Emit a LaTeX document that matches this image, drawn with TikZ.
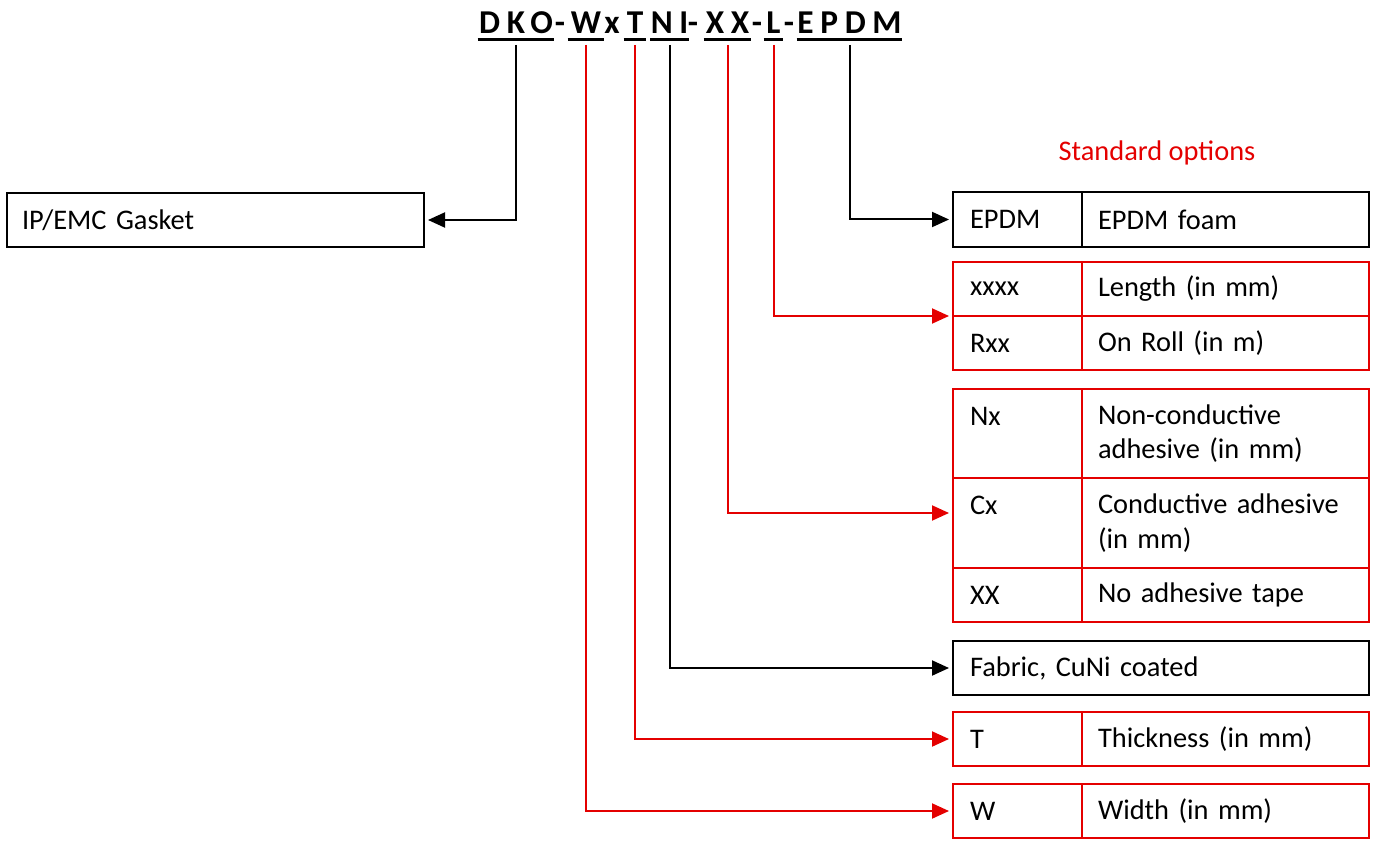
\documentclass[tikz,border=0pt]{standalone}
\usepackage{fontspec}
\setmainfont{Carlito}
\usetikzlibrary{arrows.meta}
\definecolor{myred}{RGB}{228,0,0}
\newcommand{\titlefnt}{\fontsize{25}{30}\selectfont\bfseries\addfontfeatures{LetterSpace=20}}
\begin{document}
\begin{tikzpicture}[x=0.75pt,y=-0.75pt,
  every node/.style={font=\fontsize{21.3}{26}\selectfont},
  box/.style={draw, line width=1.9pt, rectangle, anchor=north west, outer sep=0pt, inner ysep=0pt, align=left},
  lcell/.style={box, minimum width=96.75pt, text width=71.25pt, inner xsep=12.75pt},
  rcell/.style={box, minimum width=215.25pt, text width=191.25pt, inner xsep=12pt},
  redbox/.style={draw=myred},
  tok/.style={font=\titlefnt, inner xsep=0pt, inner ysep=0pt, anchor=base, text depth=8.25pt},
  uline/.style={line width=2.4pt},
  conn/.style={line width=1.5pt, shorten >=3pt, -{Triangle[length=12.75pt,width=11.25pt]}}
]
\useasboundingbox (0,0) rectangle (1377,841);

% title
\node[tok, minimum width=57pt] (DKO) at (516,33.5) {DKO};
\node[tok] (d1) at (560,33.5) {-};
\node[tok, minimum width=27pt] (W) at (586,33.5) {W};
\node[tok] (x1) at (612,33.5) {x};
\node[tok, minimum width=16.5pt] (T) at (635,33.5) {T};
\node[tok, minimum width=27.75pt] (NI) at (669.5,33.5) {NI};
\node[tok] (d2) at (693,33.5) {-};
\node[tok, minimum width=35.25pt] (XX) at (727.5,33.5) {XX};
\node[tok] (d3) at (757,33.5) {-};
\node[tok, minimum width=14.25pt] (L) at (773.5,33.5) {L};
\node[tok] (d4) at (789,33.5) {-};
\node[tok, minimum width=78.75pt] (EPDM) at (849.5,33.5) {EPDM};
\foreach \t in {DKO,W,T,NI,XX,L,EPDM}
  \draw[uline] ([yshift=4.1pt]\t.south west) -- ([yshift=4.1pt]\t.south east);

% left box
\node[box, minimum width=312.75pt, text width=290.25pt, inner xsep=11.25pt, minimum height=40.5pt] (gasket) at (7,193) {IP/EMC Gasket};

% standard options
\node[text=myred] (std) at (1157,153) {Standard options};

% tables
\node[lcell, minimum height=41.25pt] (epdmA) at (953,192) {EPDM};
\node[rcell, minimum height=41.25pt] (epdmB) at (1082,192) {EPDM foam};

\node[lcell, redbox, minimum height=40.5pt] (lenA) at (953,262) {xxxx};
\node[rcell, redbox, minimum height=40.5pt] (lenB) at (1082,262) {Length (in mm)};
\node[lcell, redbox, minimum height=40.5pt] (rollA) at (953,316) {Rxx};
\node[rcell, redbox, minimum height=40.5pt] (rollB) at (1082,316) {On Roll (in m)};

\node[lcell, redbox, minimum height=66.75pt] (nxA) at (953,389) {Nx\\\phantom{x}};
\node[rcell, redbox, minimum height=66.75pt] (nxB) at (1082,389) {Non-conductive\\adhesive (in mm)};
\node[lcell, redbox, minimum height=67.5pt] (cxA) at (953,478) {Cx\\\phantom{x}};
\node[rcell, redbox, minimum height=67.5pt] (cxB) at (1082,478) {Conductive adhesive\\(in mm)};
\node[lcell, redbox, minimum height=40.5pt] (xxA) at (953,568) {XX};
\node[rcell, redbox, minimum height=40.5pt] (xxB) at (1082,568) {No adhesive tape};

\node[box, minimum width=312pt, text width=286.5pt, inner xsep=12.75pt, minimum height=40.5pt] (fabric) at (953,641) {Fabric, CuNi coated};

\node[lcell, redbox, minimum height=40.5pt] (tA) at (953,712) {T};
\node[rcell, redbox, minimum height=40.5pt] (tB) at (1082,712) {Thickness (in mm)};
\node[lcell, redbox, minimum height=40.5pt] (wA) at (953,784) {W};
\node[rcell, redbox, minimum height=40.5pt] (wB) at (1082,784) {Width (in mm)};

% connectors
\coordinate (adhIn) at (953,513);
\draw[conn] (DKO.south) |- (gasket.east);
\draw[conn] (EPDM.south) |- (epdmA.west);
\draw[conn, myred] (L.south) |- (lenA.south west);
\draw[conn, myred] (XX.south) |- (adhIn);
\draw[conn] (NI.south) |- (fabric.west);
\draw[conn, myred] (T.south) |- (tA.west);
\draw[conn, myred] (W.south) |- (wA.west);
\end{tikzpicture}
\end{document}
